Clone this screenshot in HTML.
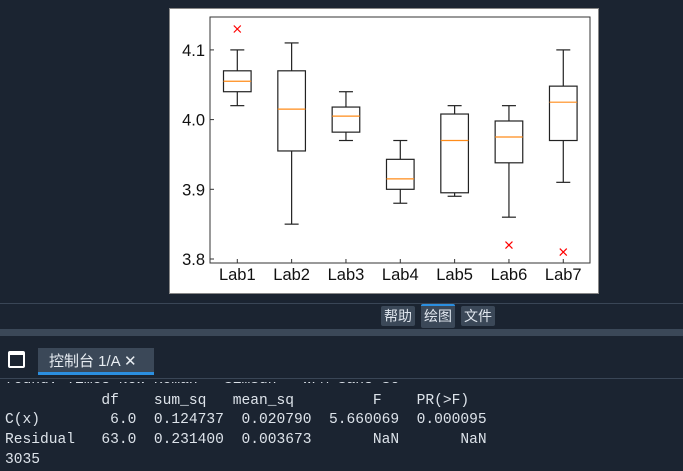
<!DOCTYPE html>
<html><head><meta charset="utf-8"><style>
body{margin:0;width:683px;height:471px;background:#1b2431;overflow:hidden;position:relative;font-family:"Liberation Sans","Noto Sans CJK SC",sans-serif}
.abs{position:absolute}
.btn{position:absolute;top:306px;height:20px;background:#3b4858;color:#e0e6ee;font-size:14px;line-height:20px;padding:0 3px;border-radius:2px}
.mono{position:absolute;left:5px;font-family:"Liberation Mono","Noto Sans CJK SC",monospace;font-size:14.6px;color:#dde3ea;white-space:pre}
</style></head><body>
<div class="abs" style="left:169px;top:8px;width:428px;height:284px;background:#fff;border:1px solid #888"></div>
<svg class="abs" style="left:0;top:0" width="683" height="300">
<g id="g"></g></svg>
<div class="abs" style="left:0;top:303px;width:683px;height:1px;background:#3a4656"></div>
<div class="btn" style="left:381px">帮助</div>
<div class="btn" style="left:421px;border-top:2px solid #2b8fe0;top:304px;height:22px">绘图</div>
<div class="btn" style="left:461px">文件</div>
<div class="abs" style="left:0;top:329px;width:683px;height:7px;background:#3b4858"></div>
<div class="abs" style="left:8px;top:351px;width:13px;height:11px;border:2px solid #fff;border-top-width:4px;border-radius:2px"></div>
<div class="abs" style="left:38px;top:348px;width:116px;height:27px;background:#3b4858;border-bottom:3px solid #2b8fe0;color:#e8edf2;font-size:15px;line-height:27px;padding-left:11px;box-sizing:border-box">控制台 1/A ✕</div>
<div class="abs" style="left:0;top:378px;width:683px;height:1px;background:#3a4656"></div>
<div class="mono" style="top:372px;height:19px;overflow:hidden;clip-path:inset(10px 0 0 0)">found: Times New Roman + SimSun + WFM Sans SC</div>
<div class="mono" style="top:393px">           df    sum_sq   mean_sq         F    PR(&gt;F)</div>
<div class="mono" style="top:412px">C(x)        6.0  0.124737  0.020790  5.660069  0.000095</div>
<div class="mono" style="top:432px">Residual   63.0  0.231400  0.003673       NaN       NaN</div>
<div class="mono" style="top:452px">3035</div>
<script>
const labels=["Lab1","Lab2","Lab3","Lab4","Lab5","Lab6","Lab7"];
const whisLo=[4.02,3.85,3.97,3.88,3.89,3.86,3.91];
const q1=[4.04,3.955,3.982,3.90,3.895,3.938,3.97];
const med=[4.055,4.015,4.005,3.915,3.97,3.975,4.025];
const q3=[4.07,4.07,4.018,3.943,4.008,3.998,4.048];
const whisHi=[4.10,4.11,4.04,3.97,4.02,4.02,4.10];
const outliers=[[4.13],[],[],[],[],[3.82],[3.81]];
const yTicks=[3.8,3.9,4.0,4.1];
const y=v=>259-(v-3.8)*697;
const x=i=>237.3+i*54.33;
const g=document.getElementById('g');
const NS='http://www.w3.org/2000/svg';
function mk(t,a){const e=document.createElementNS(NS,t);for(const k in a)e.setAttribute(k,a[k]);g.appendChild(e);return e;}
let e=mk('rect',{x:210,y:17,width:380,height:246,fill:'none',stroke:'#333','stroke-width':1});


yTicks.forEach(t=>{mk('line',{x1:210,x2:214,y1:y(t),y2:y(t),stroke:'#333'});
const tx=mk('text',{x:205,y:y(t)+6,'text-anchor':'end','font-size':16.5,fill:'#111'});tx.textContent=t.toFixed(1);

});
labels.forEach((l,i)=>{const cx=x(i),w=13.8;
mk('line',{x1:cx,x2:cx,y1:263,y2:259,stroke:'#333'});
const tx=mk('text',{x:cx,y:280,'text-anchor':'middle','font-size':16.5,fill:'#111'});tx.textContent=l;


const s={stroke:'#222','stroke-width':1.2};
mk('line',Object.assign({x1:cx,x2:cx,y1:y(whisHi[i]),y2:y(q3[i])},s));
mk('line',Object.assign({x1:cx,x2:cx,y1:y(q1[i]),y2:y(whisLo[i])},s));
mk('line',Object.assign({x1:cx-7,x2:cx+7,y1:y(whisHi[i]),y2:y(whisHi[i])},s));
mk('line',Object.assign({x1:cx-7,x2:cx+7,y1:y(whisLo[i]),y2:y(whisLo[i])},s));
const b=mk('rect',Object.assign({x:cx-w,y:y(q3[i]),width:2*w,height:y(q1[i])-y(q3[i]),fill:'none'},s));


mk('line',{x1:cx-w,x2:cx+w,y1:y(med[i]),y2:y(med[i]),stroke:'#ff8c1a','stroke-width':1.2});
outliers[i].forEach(o=>{const oy=y(o);
mk('path',{d:`M${cx-3.5},${oy-3.5}L${cx+3.5},${oy+3.5}M${cx-3.5},${oy+3.5}L${cx+3.5},${oy-3.5}`,stroke:'#f00','stroke-width':1.2});});
});
</script>
</body></html>
